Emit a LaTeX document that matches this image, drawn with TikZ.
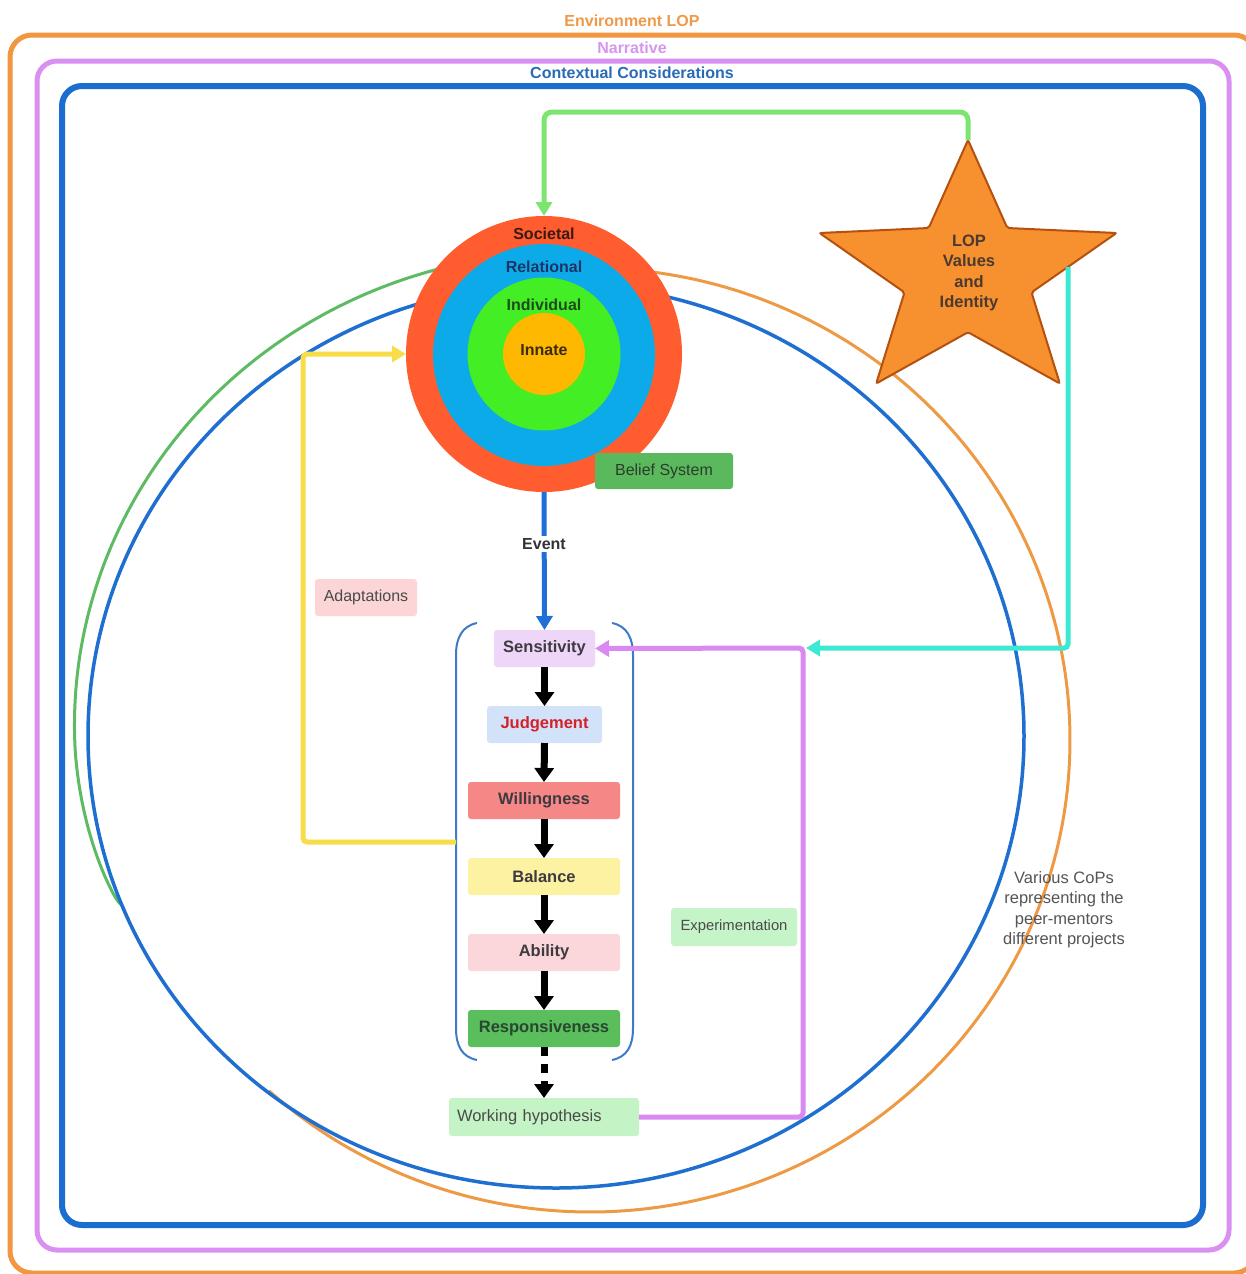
\documentclass[tikz,border=0pt]{standalone}
\usepackage{fontspec}
\setmainfont{Liberation Sans}
\usetikzlibrary{arrows.meta}
\definecolor{frOrange}{HTML}{F2963F}
\definecolor{frPurple}{HTML}{DA90F2}
\definecolor{frBlue}{HTML}{1C6DD0}
\definecolor{txEnv}{HTML}{EE9A4A}
\definecolor{txNar}{HTML}{D596EE}
\definecolor{txCtx}{HTML}{2A6BB5}
\definecolor{tgRed}{HTML}{FF5C2F}
\definecolor{tgCyan}{HTML}{0DAAE9}
\definecolor{tgGreen}{HTML}{44EE24}
\definecolor{tgYel}{HTML}{FFB800}
\definecolor{lnGreen}{HTML}{7BE570}
\definecolor{lnCyan}{HTML}{3DE9D2}
\definecolor{lnPurple}{HTML}{D98AF2}
\definecolor{lnYel}{HTML}{F8DC48}
\definecolor{lnBlue}{HTML}{1E6FD8}
\definecolor{ciGreen}{HTML}{5DBB63}
\definecolor{ciOrange}{HTML}{EE9A45}
\definecolor{ciBlue}{HTML}{1E6FD0}
\definecolor{starFill}{HTML}{F7912F}
\definecolor{starDraw}{HTML}{B5500F}
\definecolor{fBelief}{HTML}{5AB95C}
\definecolor{fSens}{HTML}{EED6F8}
\definecolor{fJudg}{HTML}{D2E3F9}
\definecolor{fWill}{HTML}{F68787}
\definecolor{fBal}{HTML}{FDF2A2}
\definecolor{fAbi}{HTML}{FBD6DA}
\definecolor{fResp}{HTML}{59BE5B}
\definecolor{fWH}{HTML}{C4F3C6}
\definecolor{fAd}{HTML}{FCD6D6}
\definecolor{fEx}{HTML}{C6F4C9}
\definecolor{brkBlue}{HTML}{3E7BC6}
\definecolor{txDark}{HTML}{3D3A40}
\definecolor{txGray}{HTML}{4A4A4A}
\definecolor{txRed}{HTML}{D42028}
\newcommand\fsa{\fontsize{16}{19}\selectfont}
\newcommand\fsb{\fontsize{16.5}{20.5}\selectfont}
\begin{document}
\begin{tikzpicture}[x=1pt,y=-1pt,
  declare function={gd(\a)=(\a<178)*13*sqrt(max(\a-158,0)/20)+(\a>=178)*(13+(\a-178)*0.2);},
  frame/.style={line width=5pt, rounded corners=22pt},
  toplbl/.style={font=\fsa\bfseries, inner sep=0pt},
  tgtlbl/.style={font=\fsa\bfseries, inner sep=0pt},
  tcirc/.style={circle, inner sep=0pt, outer sep=0pt},
  pbox/.style={rounded corners=3pt, minimum height=37pt, inner sep=0pt, outer sep=0pt, font=\fsb\bfseries, text=txDark},
  lbox/.style={rounded corners=3pt, minimum height=37pt, inner sep=0pt, outer sep=0pt, font=\fsa, text=txGray},
  blk/.style={line width=7pt, black, -{Triangle[width=19pt,length=14pt]}},
  cline/.style={line width=5pt, rounded corners=6pt, -{Triangle[width=16pt,length=14pt]}},
  brk/.style={line width=2pt, brkBlue}
]
\useasboundingbox (0,0) rectangle (1246,1274);
\fill[white] (0,0) rectangle (1246,1274);

% frames
\draw[frame, frOrange] (10,35) rectangle (1256,1273);
\draw[frame, frPurple, rounded corners=20pt] (37,61) rectangle (1229,1250);
\draw[frame, frBlue, line width=6pt, rounded corners=20pt] (62,86) rectangle (1203,1225);
\node[toplbl, text=txEnv] (envlbl) at (632,21) {Environment LOP};
\node[toplbl, text=txNar] (narlbl) at (632,48) {Narrative};
\node[toplbl, text=txCtx] (ctxlbl) at (632,73) {Contextual Considerations};

% CoP circles
\draw[ciGreen, line width=3pt] plot[domain=258:156, samples=160, variable=\t] ({556+(468+gd(\t))*cos(\t)},{736+(452+gd(\t))*sin(\t)});
\draw[ciOrange, line width=3pt] plot[domain=-86:132, samples=200, variable=\t] ({590+480*cos(\t)},{740+472*sin(\t)});
\draw[ciBlue, line width=3.5pt] (556,736) ellipse [x radius=468, y radius=452];

% target
\node[tcirc, fill=tgRed, minimum size=276pt] (soc) at (544,354) {};
\node[tcirc, fill=tgCyan, minimum size=222pt] (rel) at (544,355) {};
\node[tcirc, fill=tgGreen, minimum size=153pt] (ind) at (544,354) {};
\node[tcirc, fill=tgYel, minimum size=82pt] (inn) at (544,354) {};
\node[tgtlbl, text={rgb,255:red,59;green,26;blue,20}] (socl) at (544,234) {Societal};
\node[tgtlbl, text={rgb,255:red,27;green,53;blue,102}] (rell) at (544,267) {Relational};
\node[tgtlbl, text={rgb,255:red,30;green,74;blue,30}] (indl) at (544,305) {Individual};
\node[tgtlbl, text={rgb,255:red,59;green,42;blue,16}] (innl) at (544,350) {Innate};
\node[lbox, fill=fBelief, minimum width=138pt, minimum height=36pt, text={rgb,255:red,45;green,60;blue,45}] (belief) at (664,471) {Belief System};

% star
\coordinate (starTop) at (968,140);
\coordinate (starR) at (1068,267);
\filldraw[fill=starFill, draw=starDraw, line width=2pt, rounded corners=2pt]
  (968,140) -- (1007.3,228) -- (1116.5,233) -- (1031.5,292.4) -- (1059.8,383.5)
  -- (968,332.2) -- (876.2,383.5) -- (904.5,292.4) -- (819.5,233) -- (928.7,228) -- cycle;
\node[font=\fsb\bfseries, align=center, text={rgb,255:red,74;green,58;blue,48}, inner sep=0pt] (star) at (969,273) {LOP\\Values\\and\\Identity};

% process boxes
\node[pbox, fill=fSens, minimum width=101pt] (sens) at (544.5,648.5) {Sensitivity};
\node[pbox, fill=fJudg, minimum width=115pt, text=txRed] (judg) at (544.5,724.5) {Judgement};
\node[pbox, fill=fWill, minimum width=152pt] (will) at (544,800.5) {Willingness};
\node[pbox, fill=fBal, minimum width=152pt] (bal) at (544,876.5) {Balance};
\node[pbox, fill=fAbi, minimum width=152pt] (abi) at (544,952.5) {Ability};
\node[pbox, fill=fResp, minimum width=152pt, text={rgb,255:red,40;green,70;blue,48}] (resp) at (544,1028.5) {Responsiveness};
\node[lbox, fill=fWH, minimum height=38pt, text width=174pt, align=left, inner xsep=8pt, font=\fsb] (wh) at (544,1117) {Working hypothesis};
\node[lbox, fill=fAd, minimum width=102pt] (adapt) at (366,597.5) {Adaptations};
\node[lbox, fill=fEx, minimum width=126pt, minimum height=38pt, font=\fontsize{14.8}{18}\selectfont] (exper) at (734,927) {Experimentation};
\node[font=\fsb, align=center, text={rgb,255:red,85;green,85;blue,85}, inner sep=0pt] (cops) at (1064,909.5) {Various CoPs\\representing the\\peer-mentors\\different projects};

% brackets
\draw[brk] (477,623) .. controls (462,626) and (456,638) .. (456,655) -- (456,1028) .. controls (456,1046) and (462,1057) .. (477,1060);
\draw[brk] (612,623) .. controls (627,626) and (633,638) .. (633,655) -- (633,1028) .. controls (633,1046) and (627,1057) .. (612,1060);
\coordinate (brL) at (456,842);
\coordinate (pv) at (806,648);

% black arrows
\draw[blk] (sens.south) -- (judg.north);
\draw[blk] (judg.south) -- (will.north);
\draw[blk] (will.south) -- (bal.north);
\draw[blk] (bal.south) -- (abi.north);
\draw[blk] (abi.south) -- (resp.north);
\draw[blk, dash pattern=on 9pt off 8pt] (resp.south) -- (wh.north);

% coloured connectors
\draw[cline, lnGreen, rounded corners=8pt] (starTop) -- (968,112) -- (544,112) -- (soc.north);
\draw[cline, lnCyan, rounded corners=4pt] (starR) -- (1068,648) -- (pv);
\draw[cline, lnPurple, rounded corners=4pt] (wh.east) -- (803,1117) -- (803,648) -- (sens.east);
\draw[cline, lnYel, rounded corners=4pt] (brL) -- (303,842) -- (303,354) -- (soc.west);
\draw[cline, lnBlue, rounded corners=0pt] (soc.south) -- (sens.north);
\node[font=\fsa\bfseries, fill=white, text={rgb,255:red,50;green,50;blue,55}, inner sep=2pt] (ev) at (544,544) {Event};
\end{tikzpicture}
\end{document}
